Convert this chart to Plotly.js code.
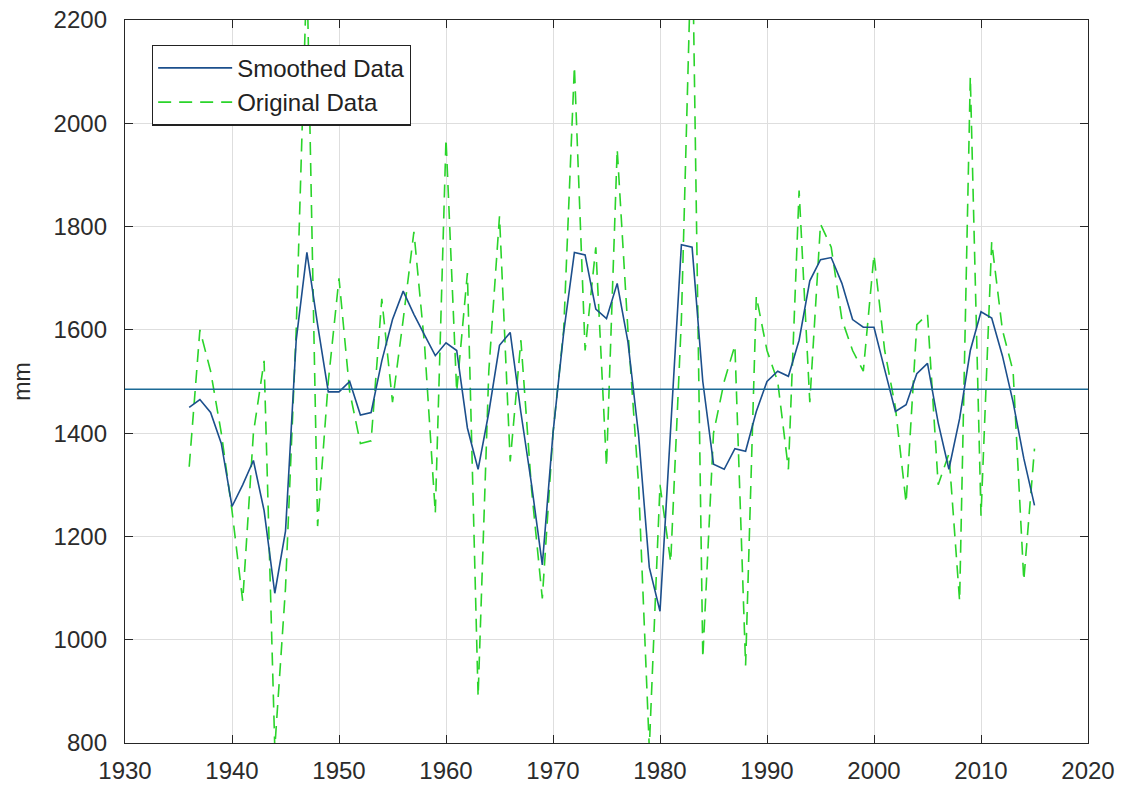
<!DOCTYPE html>
<html>
<head>
<meta charset="utf-8">
<script src="https://cdn.plot.ly/plotly-3.0.1.min.js"></script>
<style>html,body{margin:0;padding:0;background:#fff;}#chart{width:1125px;height:787px;}</style>
</head>
<body>
<div id="chart"></div>
<script>
const years = [1936,1937,1938,1939,1940,1941,1942,1943,1944,1945,1946,1947,1948,1949,1950,1951,1952,1953,1954,1955,1956,1957,1958,1959,1960,1961,1962,1963,1964,1965,1966,1967,1968,1969,1970,1971,1972,1973,1974,1975,1976,1977,1978,1979,1980,1981,1982,1983,1984,1985,1986,1987,1988,1989,1990,1991,1992,1993,1994,1995,1996,1997,1998,1999,2000,2001,2002,2003,2004,2005,2006,2007,2008,2009,2010,2011,2012,2013,2014,2015];

const originalData = [1335,1600,1520,1400,1250,1075,1400,1540,790,1100,1600,2300,1220,1500,1700,1480,1380,1385,1660,1460,1620,1790,1570,1245,1970,1480,1710,890,1520,1820,1345,1580,1290,1080,1400,1600,2110,1560,1760,1335,1950,1600,1300,790,1300,1150,1620,2400,965,1400,1500,1570,950,1665,1560,1500,1330,1870,1460,1805,1760,1620,1560,1520,1745,1560,1450,1265,1610,1630,1300,1360,1075,2090,1240,1770,1600,1520,1115,1370];

const smoothedData = [1450,1465,1440,1380,1258,1300,1347,1250,1090,1210,1580,1750,1610,1480,1480,1500,1435,1440,1540,1620,1675,1630,1590,1550,1575,1560,1410,1330,1440,1570,1595,1440,1300,1145,1400,1595,1750,1745,1640,1622,1690,1577,1396,1140,1055,1400,1765,1760,1500,1340,1330,1370,1365,1442,1500,1520,1510,1580,1695,1736,1740,1690,1620,1605,1605,1523,1442,1455,1515,1535,1420,1330,1428,1560,1635,1623,1550,1460,1351,1260];

const meanLevel = 1485;

const xTicks = [1930,1940,1950,1960,1970,1980,1990,2000,2010,2020];
const yTicks = [800,1000,1200,1400,1600,1800,2000,2200];

const fontFam = '"Liberation Sans", Arial, Helvetica, sans-serif';

const traces = [
  {
    x: years, y: originalData, type: 'scatter', mode: 'lines',
    name: 'Original Data', legendrank: 2,
    line: {color: '#2ad42a', width: 1.6, dash: '13px,8px'}
  },
  {
    x: years, y: smoothedData, type: 'scatter', mode: 'lines',
    name: 'Smoothed Data', legendrank: 1,
    line: {color: '#1c4f8c', width: 1.6}
  }
];

const layout = {
  width: 1125, height: 787,
  margin: {l: 125, r: 37, t: 20, b: 44},
  paper_bgcolor: '#fff', plot_bgcolor: '#fff',
  font: {family: fontFam, size: 24, color: '#2b2b2b'},
  showlegend: true,
  legend: {
    x: 0.028, y: 0.966, xanchor: 'left', yanchor: 'top',
    bgcolor: '#fff', bordercolor: '#222', borderwidth: 1.2,
    itemwidth: 74,
    font: {family: fontFam, size: 24, color: '#222'}
  },
  xaxis: {
    range: [1930, 2020], tickmode: 'array', tickvals: xTicks,
    ticktext: xTicks.map(String),
    showgrid: true, gridcolor: '#dedede', gridwidth: 1,
    zeroline: false, showline: true, linecolor: '#262626', linewidth: 1.2,
    mirror: 'ticks', ticks: 'inside', ticklen: 8, tickcolor: '#262626',
    ticklabelstandoff: 6,
    tickfont: {family: fontFam, size: 24, color: '#2b2b2b'}
  },
  yaxis: {
    range: [800, 2200], tickmode: 'array', tickvals: yTicks,
    ticktext: yTicks.map(String),
    showgrid: true, gridcolor: '#dedede', gridwidth: 1,
    zeroline: false, showline: true, linecolor: '#262626', linewidth: 1.2,
    mirror: 'ticks', ticks: 'inside', ticklen: 8, tickcolor: '#262626',
    ticklabelstandoff: 12,
    tickfont: {family: fontFam, size: 24, color: '#2b2b2b'},
    title: {text: 'mm', standoff: 16, font: {family: fontFam, size: 23, color: '#2b2b2b'}}
  },
  shapes: [
    {type: 'line', xref: 'paper', x0: 0, x1: 1, yref: 'y', y0: meanLevel, y1: meanLevel,
     line: {color: '#1c6a96', width: 1.6}, layer: 'above'}
  ]
};

Plotly.newPlot('chart', traces, layout, {displayModeBar: false, staticPlot: true});
</script>
</body>
</html>
